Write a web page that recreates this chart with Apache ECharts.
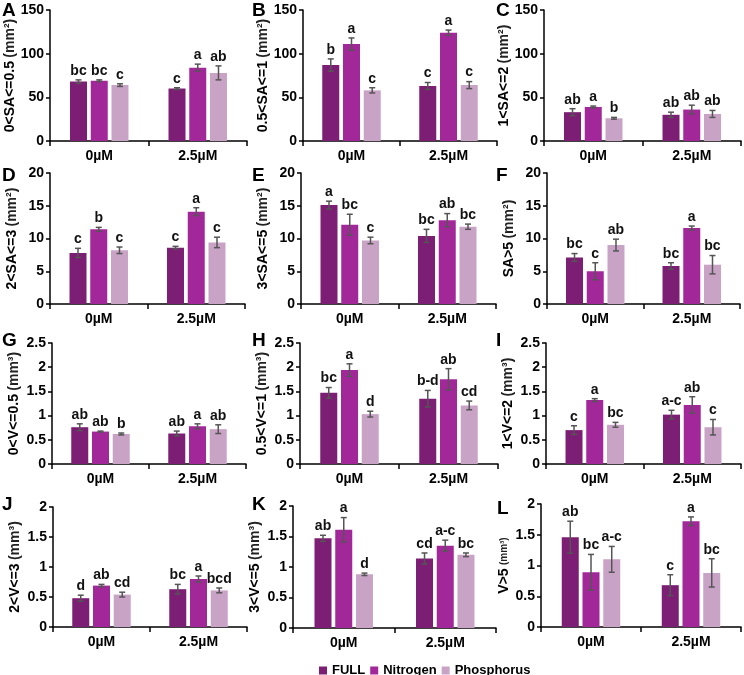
<!DOCTYPE html>
<html>
<head>
<meta charset="utf-8">
<script src="https://cdn.jsdelivr.net/npm/echarts@6/dist/echarts.min.js"></script>
<style>
  body { margin: 0; background: #fff; }
  #chart { width: 744px; height: 675px; }
</style>
</head>
<body>
<div id="chart"></div>
<script>
// treatments on the x axis and the three nutrient groups
var categories = ['0µM', '2.5µM'];
var groups = ['FULL', 'Nitrogen', 'Phosphorus'];

// means / errors / letters per group, each as [0µM, 2.5µM]
var meanA = [[68, 60], [69, 84], [64, 78]];
var errA = [[2, 1], [1, 4], [1.5, 8]];
var sigA = [['bc', 'c'], ['bc', 'a'], ['c', 'ab']];

var meanB = [[87, 63], [111, 124], [58, 64]];
var errB = [[7, 4], [7, 3], [3, 4]];
var sigB = [['b', 'c'], ['a', 'a'], ['c', 'c']];

var meanC = [[33, 30], [39, 36], [26, 31]];
var errC = [[4, 3], [1, 5], [1, 4]];
var sigC = [['ab', 'ab'], ['a', 'ab'], ['b', 'ab']];

var meanD = [[7.8, 8.6], [11.4, 14.1], [8.2, 9.4]];
var errD = [[0.7, 0.2], [0.3, 0.6], [0.5, 0.8]];
var sigD = [['c', 'c'], ['b', 'a'], ['c', 'c']];

var meanE = [[15.1, 10.4], [12.1, 12.8], [9.7, 11.8]];
var errE = [[0.6, 1.0], [1.6, 1.0], [0.5, 0.4]];
var sigE = [['a', 'bc'], ['bc', 'ab'], ['c', 'bc']];

var meanF = [[7.1, 5.8], [5.0, 11.6], [9.0, 6.0]];
var errF = [[0.6, 0.5], [1.3, 0.3], [0.9, 1.4]];
var sigF = [['bc', 'bc'], ['c', 'a'], ['ab', 'bc']];

var meanG = [[0.76, 0.63], [0.67, 0.78], [0.62, 0.72]];
var errG = [[0.07, 0.05], [0.01, 0.05], [0.02, 0.09]];
var sigG = [['ab', 'ab'], ['ab', 'a'], ['b', 'ab']];

var meanH = [[1.47, 1.35], [1.94, 1.75], [1.03, 1.21]];
var errH = [[0.11, 0.17], [0.13, 0.22], [0.06, 0.09]];
var sigH = [['bc', 'b-d'], ['a', 'ab'], ['d', 'cd']];

var meanI = [[0.70, 1.02], [1.32, 1.22], [0.81, 0.76]];
var errI = [[0.09, 0.09], [0.03, 0.17], [0.05, 0.16]];
var sigI = [['c', 'a-c'], ['a', 'ab'], ['bc', 'c']];

var meanJ = [[0.48, 0.63], [0.69, 0.80], [0.54, 0.61]];
var errJ = [[0.05, 0.08], [0.02, 0.05], [0.04, 0.04]];
var sigJ = [['d', 'bc'], ['ab', 'a'], ['cd', 'bcd']];

var meanK = [[1.47, 1.14], [1.61, 1.35], [0.88, 1.20]];
var errK = [[0.05, 0.09], [0.20, 0.09], [0.02, 0.03]];
var sigK = [['ab', 'cd'], ['a', 'a-c'], ['d', 'bc']];

var meanL = [[1.46, 0.68], [0.89, 1.72], [1.10, 0.88]];
var errL = [[0.26, 0.17], [0.29, 0.07], [0.21, 0.23]];
var sigL = [['ab', 'c'], ['bc', 'a'], ['a-c', 'bc']];

var yLabels = ['0<SA<=0.5', '0.5<SA<=1', '1<SA<=2', '2<SA<=3', '3<SA<=5', 'SA>5',
               '0<V<=0.5', '0.5<V<=1', '1<V<=2', '2<V<=3', '3<V<=5', 'V>5'];
var yUnits = ['(mm²)', '(mm²)', '(mm²)', '(mm²)', '(mm²)', '(mm²)',
              '(mm³)', '(mm³)', '(mm³)', '(mm³)', '(mm³)', '(mm³)'];
var yMax = [150, 150, 150, 20, 20, 20, 2.5, 2.5, 2.5, 2, 2, 2];
var yStep = [50, 50, 50, 5, 5, 5, 0.5, 0.5, 0.5, 0.5, 0.5, 0.5];

var panels = [
  { id: 'A', mean: meanA, err: errA, sig: sigA },
  { id: 'B', mean: meanB, err: errB, sig: sigB },
  { id: 'C', mean: meanC, err: errC, sig: sigC },
  { id: 'D', mean: meanD, err: errD, sig: sigD },
  { id: 'E', mean: meanE, err: errE, sig: sigE },
  { id: 'F', mean: meanF, err: errF, sig: sigF },
  { id: 'G', mean: meanG, err: errG, sig: sigG },
  { id: 'H', mean: meanH, err: errH, sig: sigH },
  { id: 'I', mean: meanI, err: errI, sig: sigI },
  { id: 'J', mean: meanJ, err: errJ, sig: sigJ },
  { id: 'K', mean: meanK, err: errK, sig: sigK },
  { id: 'L', mean: meanL, err: errL, sig: sigL }
];

// layout: plot box [left, top, right, bottom] and panel letter position
var boxes = [
  [50, 10, 247, 141], [303, 10, 497, 141], [544, 10, 741, 141],
  [50, 173, 245, 304], [301, 173, 496, 304], [547, 173, 740, 304],
  [52, 343, 246, 464], [300, 343, 498, 464], [546, 343, 741, 464],
  [53, 507, 247, 627], [293, 506, 496, 628], [541, 504, 741, 627]
];
var letterPos = [
  [2, 1], [252, 1], [496, 1],
  [2, 166], [252, 166], [496, 166],
  [2, 331], [252, 331], [496, 331],
  [2, 495], [252, 495], [497, 499]
];

var colors = ['#7c1e73', '#a2289a', '#c9a3c6'];
var FONT = 'Arial, "Liberation Sans", sans-serif';
var BAR_W = 17;
var BAR_GAP = 0.22;
var BAR_STEP = BAR_W * (1 + BAR_GAP);

function makeErrRender(sig) {
  return function(params, api) {
    var c = api.value(0), v = api.value(1), e = api.value(2), g = api.value(3);
    var base = api.coord([c, v]);
    var x = base[0] + (g - 1) * BAR_STEP;
    var yTop = api.coord([c, v + e])[1];
    var yBot = api.coord([c, v - e])[1];
    var st = { stroke: '#555', lineWidth: 1.5 };
    return {
      type: 'group',
      children: [
        { type: 'line', shape: { x1: x, y1: yTop, x2: x, y2: yBot }, style: st },
        { type: 'line', shape: { x1: x - 3, y1: yTop, x2: x + 3, y2: yTop }, style: st },
        { type: 'line', shape: { x1: x - 3, y1: yBot, x2: x + 3, y2: yBot }, style: st },
        { type: 'text', style: {
            text: sig[g][c], x: x, y: yTop - 2, align: 'center', verticalAlign: 'bottom',
            font: 'bold 14px ' + FONT, fill: '#111'
        } }
      ]
    };
  };
}

var option = {
  animation: false,
  backgroundColor: '#fff',
  title: [],
  grid: [],
  xAxis: [],
  yAxis: [],
  series: [],
  legend: {
    data: groups,
    left: 314,
    top: 659,
    icon: 'rect',
    itemWidth: 8,
    itemHeight: 8,
    itemGap: 5,
    textStyle: { fontFamily: FONT, fontWeight: 'bold', fontSize: 13, color: '#000' }
  }
};

panels.forEach(function(p, i) {
  var b = boxes[i];
  option.title.push({
    text: p.id, left: letterPos[i][0], top: letterPos[i][1], padding: 0,
    textStyle: { fontFamily: FONT, fontWeight: 'bold', fontSize: 19, color: '#000' }
  });
  option.grid.push({ left: b[0], top: b[1], width: b[2] - b[0], height: b[3] - b[1] });
  option.xAxis.push({
    gridIndex: i, type: 'category', data: categories,
    axisLine: { lineStyle: { color: '#000', width: 1.5 } },
    axisTick: { show: true, length: 5, lineStyle: { color: '#000', width: 1.5 } },
    axisLabel: { color: '#000', fontFamily: FONT, fontWeight: 'bold', fontSize: 14, margin: 8 }
  });
  var small = p.id === 'L';
  option.yAxis.push({
    gridIndex: i, type: 'value', min: 0, max: yMax[i], interval: yStep[i],
    axisLine: { show: true, lineStyle: { color: '#000', width: 1.5 } },
    axisTick: { show: true, length: 4, lineStyle: { color: '#000', width: 1.5 } },
    splitLine: { show: false },
    axisLabel: { color: '#000', fontFamily: FONT, fontWeight: 'bold', fontSize: 14, margin: 6 },
    name: '{b|' + yLabels[i] + '} {u|' + yUnits[i] + '}',
    nameLocation: 'middle',
    nameGap: small ? 24 : 31,
    nameTextStyle: {
      rich: {
        b: { fontFamily: FONT, fontWeight: 'bold', fontSize: 14, color: '#000' },
        u: { fontFamily: FONT, fontWeight: 'bold', fontSize: small ? 10 : 14, color: '#222' }
      }
    }
  });
  var errData = [];
  groups.forEach(function(gName, g) {
    option.series.push({
      type: 'bar', name: gName, xAxisIndex: i, yAxisIndex: i,
      data: p.mean[g], barWidth: BAR_W, barGap: (BAR_GAP * 100) + '%',
      itemStyle: { color: colors[g] }, silent: true
    });
    categories.forEach(function(cat, c) {
      errData.push([c, p.mean[g][c], p.err[g][c], g]);
    });
  });
  option.series.push({
    type: 'custom', xAxisIndex: i, yAxisIndex: i, silent: true, z: 5,
    renderItem: makeErrRender(p.sig), data: errData
  });
});

var chart = echarts.init(document.getElementById('chart'));
chart.setOption(option);
</script>
</body>
</html>
